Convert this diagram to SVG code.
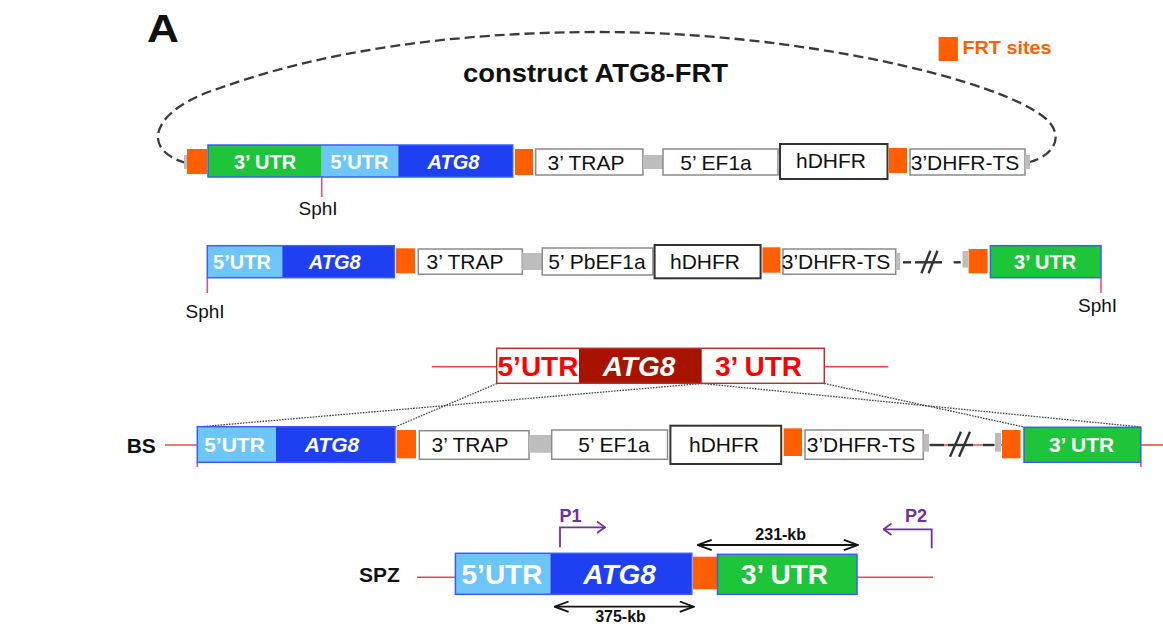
<svg xmlns="http://www.w3.org/2000/svg" width="1163" height="628" viewBox="0 0 1163 628">
  <defs>
    <style>
      text { font-family: "Liberation Sans", Arial, sans-serif; }
      .lbl { font-size: 21px; fill: #111; text-anchor: middle; }
      .wb { font-weight: bold; fill: #fff; text-anchor: middle; font-size: 20px; }
      .big { font-size: 28px; }
      .it { font-style: italic; }
      .site { font-size: 19px; fill: #111; text-anchor: middle; }
      .row { font-size: 21px; font-weight: bold; fill: #111; }
      .box { fill: #fff; stroke: #8a8a8a; stroke-width: 1.5; }
      .hd { fill: #fff; stroke: #333; stroke-width: 2; }
      .frt { fill: #ff5f00; }
      .lnk { fill: #bdbdbd; }
      .grn { fill: #1ec43a; }
      .lb { fill: #6ec6f8; }
      .bl { fill: #1f3ff2; }
      .ol { fill: none; stroke: #3a5cff; stroke-width: 1.5; }
      .red { stroke: #f04848; stroke-width: 1.6; fill: none; }
      .tick { stroke: #e0508a; stroke-width: 1.6; fill: none; }
      .dot { stroke: #444; stroke-width: 1.3; stroke-dasharray: 1.6 1.2; fill: none; }
      .brk { stroke: #333; stroke-width: 2.4; fill: none; }
      .pur { stroke: #7030a0; stroke-width: 1.8; fill: none; }
      .ptxt { font-size: 18px; font-weight: bold; fill: #7030a0; }
      .dbl { stroke: #111; stroke-width: 1.8; fill: none; }
      .kb { font-size: 16px; font-weight: bold; fill: #111; text-anchor: middle; }
    </style>
    <marker id="chev-k" viewBox="0 0 16 12" refX="15" refY="6" markerWidth="16" markerHeight="12" markerUnits="userSpaceOnUse" orient="auto-start-reverse">
      <path d="M1,0.8 L15,6 L1,11.2" fill="none" stroke="#111" stroke-width="1.8"/>
    </marker>
    <marker id="chev-p" viewBox="0 0 10 13" refX="9" refY="6.5" markerWidth="10" markerHeight="13" markerUnits="userSpaceOnUse" orient="auto">
      <path d="M1,0.8 L9,6.5 L1,12.2" fill="none" stroke="#7030a0" stroke-width="1.8"/>
    </marker>
  </defs>

  <rect width="1163" height="628" fill="#fff"/>

  <!-- panel letter, title, legend -->
  <g id="panel-label">
    <text x="147" y="42" font-size="38" font-weight="bold" fill="#111" textLength="32" lengthAdjust="spacingAndGlyphs">A</text>
  </g>
  <g id="title">
    <text x="463" y="82" font-size="26" font-weight="bold" fill="#111" textLength="265" lengthAdjust="spacingAndGlyphs">construct ATG8-FRT</text>
  </g>
  <g id="legend-frt">
    <rect class="frt" x="938.6" y="37" width="19.3" height="24"/>
    <text x="962.5" y="54.3" font-size="19" font-weight="bold" fill="#ff5f00" textLength="89" lengthAdjust="spacingAndGlyphs">FRT sites</text>
  </g>

  <!-- connectors: plasmid loop, chromosome lines, alignment guides, primers, product sizes -->
  <g id="connectors">
    <path d="M186,163 C140,150 150,110 220,88 C320,52 450,32 600,32 C800,32 1000,80 1045,118 C1065,135 1055,155 1030,162" fill="none" stroke="#3a3a3a" stroke-width="2.3" stroke-dasharray="10 5"/>

    <!-- restriction site ticks -->
    <line class="tick" x1="321.7" y1="177" x2="321.7" y2="197"/>
    <line class="tick" x1="207.3" y1="278" x2="207.3" y2="293"/>
    <line class="tick" x1="1101" y1="278" x2="1101" y2="293"/>
    <line class="tick" x1="197.3" y1="462" x2="197.3" y2="467"/>
    <line class="tick" x1="1140.8" y1="462" x2="1140.8" y2="467"/>

    <!-- break in the linear construct -->
    <line class="brk" x1="903" y1="262.3" x2="911" y2="262.3"/>
    <line class="brk" x1="915" y1="262.3" x2="942" y2="262.3"/>
    <line class="brk" x1="921.4" y1="273.3" x2="930.4" y2="250.7"/>
    <line class="brk" x1="928.6" y1="273.3" x2="937.5" y2="250.7"/>
    <line class="brk" x1="953.6" y1="262.3" x2="960.7" y2="262.3"/>

    <!-- wild-type locus chromosome -->
    <line class="red" x1="431.7" y1="366.7" x2="496.7" y2="366.7"/>
    <line class="red" x1="824.3" y1="366.7" x2="888.3" y2="366.7"/>

    <!-- homologous recombination guides -->
    <line class="dot" x1="497" y1="383.5" x2="395" y2="427"/>
    <line class="dot" x1="702" y1="383.5" x2="197.3" y2="427"/>
    <line class="dot" x1="702" y1="383.5" x2="1140.8" y2="427"/>
    <line class="dot" x1="824.3" y1="383.5" x2="1024" y2="427"/>

    <!-- BS chromosome -->
    <line class="red" x1="165" y1="445" x2="197.3" y2="445"/>
    <line class="red" x1="929" y1="445" x2="1002" y2="445"/>
    <line class="red" x1="1140.8" y1="445" x2="1163" y2="445"/>
    <line class="brk" x1="930" y1="445" x2="944" y2="445"/>
    <line class="brk" x1="948" y1="445" x2="973" y2="445"/>
    <line class="brk" x1="950" y1="456.7" x2="961" y2="431.7"/>
    <line class="brk" x1="959" y1="456.7" x2="970" y2="431.7"/>
    <line class="brk" x1="983" y1="445" x2="994" y2="445"/>

    <!-- SPZ chromosome -->
    <line class="red" x1="417" y1="577.3" x2="455.4" y2="577.3"/>
    <line class="red" x1="857" y1="577.3" x2="933" y2="577.3"/>

    <!-- primers -->
    <path class="pur" d="M560,547.3 V527.3 H605" marker-end="url(#chev-p)"/>
    <path class="pur" d="M931.7,548.3 V529.3 H883.5" marker-end="url(#chev-p)"/>

    <!-- product sizes -->
    <line class="dbl" x1="697.7" y1="545" x2="857.8" y2="545" marker-start="url(#chev-k)" marker-end="url(#chev-k)"/>
    <line class="dbl" x1="554.6" y1="606.7" x2="693.8" y2="606.7" marker-start="url(#chev-k)" marker-end="url(#chev-k)"/>
  </g>

  <!-- ===== construct ATG8-FRT (circular plasmid) ===== -->
  <g id="c1-link-left"><rect class="lnk" x="184" y="155" width="4" height="14"/></g>
  <g id="c1-frt-1"><rect class="frt" x="187" y="149" width="20" height="25"/></g>
  <g id="c1-utr-atg8">
    <rect class="grn" x="208" y="145" width="113.7" height="32"/>
    <rect class="lb" x="321.7" y="145" width="76.6" height="32"/>
    <rect class="bl" x="398.3" y="145" width="114.4" height="32"/>
    <rect class="ol" x="208" y="145" width="304.7" height="32"/>
    <text class="wb" x="265" y="169">3’ UTR</text>
    <text class="wb" x="359.5" y="169">5’UTR</text>
    <text class="wb it" x="453.5" y="169">ATG8</text>
  </g>
  <g id="c1-sphi"><text class="site" x="318" y="215">SphI</text></g>
  <g id="c1-frt-2"><rect class="frt" x="515" y="149" width="18" height="26"/></g>
  <g id="c1-trap">
    <rect class="box" x="535.7" y="149" width="107.2" height="26"/>
    <text class="lbl" x="586" y="170">3’ TRAP</text>
  </g>
  <g id="c1-link-1"><rect class="lnk" x="643" y="155" width="20" height="14"/></g>
  <g id="c1-ef1a">
    <rect class="box" x="663" y="149" width="115" height="26"/>
    <text class="lbl" x="716" y="170">5’ EF1a</text>
  </g>
  <g id="c1-link-2"><rect class="lnk" x="778" y="155" width="3" height="14"/></g>
  <g id="c1-hdhfr">
    <rect class="hd" x="780" y="144" width="107.5" height="35"/>
    <text class="lbl" x="831" y="168">hDHFR</text>
  </g>
  <g id="c1-frt-3"><rect class="frt" x="889" y="148" width="18" height="25"/></g>
  <g id="c1-dhfrts">
    <rect class="box" x="910" y="149" width="115" height="26"/>
    <text class="lbl" x="965" y="170">3’DHFR-TS</text>
  </g>
  <g id="c1-link-right"><rect class="lnk" x="1025" y="155" width="5" height="14"/></g>

  <!-- ===== linearised construct ===== -->
  <g id="c2-utr-atg8">
    <rect class="lb" x="207.3" y="245.7" width="75" height="32"/>
    <rect class="bl" x="282.3" y="245.7" width="112" height="32"/>
    <rect class="ol" x="207.3" y="245.7" width="187" height="32"/>
    <text class="wb" x="242" y="268.5">5’UTR</text>
    <text class="wb it" x="334.7" y="268.5">ATG8</text>
  </g>
  <g id="c2-sphi-left"><text class="site" x="205" y="318">SphI</text></g>
  <g id="c2-frt-1"><rect class="frt" x="396" y="248.3" width="19" height="25"/></g>
  <g id="c2-trap">
    <rect class="box" x="418.3" y="249" width="104" height="25.3"/>
    <text class="lbl" x="465" y="269">3’ TRAP</text>
  </g>
  <g id="c2-link-1"><rect class="lnk" x="522.3" y="253" width="20" height="17"/></g>
  <g id="c2-pbef1a">
    <rect class="box" x="542.3" y="248" width="110.6" height="27"/>
    <text class="lbl" x="597" y="269">5’ PbEF1a</text>
  </g>
  <g id="c2-hdhfr">
    <rect class="hd" x="654.6" y="245" width="106" height="33.3"/>
    <text class="lbl" x="705" y="269">hDHFR</text>
  </g>
  <g id="c2-frt-2"><rect class="frt" x="762.5" y="247.3" width="18" height="25.4"/></g>
  <g id="c2-dhfrts">
    <rect class="box" x="783" y="249" width="112.7" height="25.3"/>
    <text class="lbl" x="836" y="269">3’DHFR-TS</text>
  </g>
  <g id="c2-link-2"><rect class="lnk" x="895.7" y="253" width="4.5" height="17"/></g>
  <g id="c2-link-3"><rect class="lnk" x="962.5" y="251" width="5.5" height="16.7"/></g>
  <g id="c2-frt-3"><rect class="frt" x="968.6" y="249" width="19" height="24.3"/></g>
  <g id="c2-utr3">
    <rect class="grn" x="990.4" y="245.7" width="110.6" height="32"/>
    <rect class="ol" x="990.4" y="245.7" width="110.6" height="32"/>
    <text class="wb" x="1045" y="268.5">3’ UTR</text>
  </g>
  <g id="c2-sphi-right"><text class="site" x="1097.5" y="312">SphI</text></g>

  <!-- ===== wild-type ATG8 locus ===== -->
  <g id="wt-locus">
    <rect x="496.7" y="348.3" width="327.6" height="35" fill="#fff"/>
    <rect x="579" y="348.3" width="122.7" height="35" fill="#a81300"/>
    <rect x="496.7" y="348.3" width="327.6" height="35" fill="none" stroke="#b8322a" stroke-width="1.5"/>
    <text class="wb big" x="538" y="376" fill="#ff0000" style="fill:#ff0000">5’UTR</text>
    <text class="wb big it" x="639" y="376">ATG8</text>
    <text class="wb big" x="758.5" y="376" style="fill:#ff0000">3’ UTR</text>
  </g>

  <!-- ===== BS (blood stage) locus ===== -->
  <g id="bs-label"><text class="row" x="126.7" y="453">BS</text></g>
  <g id="bs-utr-atg8">
    <rect class="lb" x="197.3" y="426.7" width="78.7" height="35.6"/>
    <rect class="bl" x="276" y="426.7" width="119" height="35.6"/>
    <rect class="ol" x="197.3" y="426.7" width="197.7" height="35.6"/>
    <text class="wb" x="234.5" y="452" style="font-size:21px">5’UTR</text>
    <text class="wb it" x="332" y="452" style="font-size:21px">ATG8</text>
  </g>
  <g id="bs-frt-1"><rect class="frt" x="396.7" y="430" width="19.3" height="28.3"/></g>
  <g id="bs-trap">
    <rect class="box" x="419.3" y="430.7" width="109.7" height="28.6"/>
    <text class="lbl" x="470" y="452">3’ TRAP</text>
  </g>
  <g id="bs-link-1"><rect class="lnk" x="529" y="435" width="22.7" height="17.7"/></g>
  <g id="bs-ef1a">
    <rect class="box" x="551.7" y="430" width="115.8" height="29.3"/>
    <text class="lbl" x="614" y="452">5’ EF1a</text>
  </g>
  <g id="bs-hdhfr">
    <rect class="hd" x="670.4" y="425.7" width="110.8" height="38.3"/>
    <text class="lbl" x="724" y="452">hDHFR</text>
  </g>
  <g id="bs-frt-2"><rect class="frt" x="783.7" y="428.3" width="18.3" height="27.7"/></g>
  <g id="bs-dhfrts">
    <rect class="box" x="805" y="430" width="118.3" height="29.3"/>
    <text class="lbl" x="861" y="452">3’DHFR-TS</text>
  </g>
  <g id="bs-link-2"><rect class="lnk" x="923.3" y="434" width="5.7" height="17.7"/></g>
  <g id="bs-link-3"><rect class="lnk" x="995" y="433" width="6" height="18.7"/></g>
  <g id="bs-frt-3"><rect class="frt" x="1002" y="430" width="18.5" height="28.3"/></g>
  <g id="bs-utr3">
    <rect class="grn" x="1024" y="427.3" width="116.8" height="35"/>
    <rect class="ol" x="1024" y="427.3" width="116.8" height="35"/>
    <text class="wb" x="1081.6" y="452" style="font-size:21px">3’ UTR</text>
  </g>

  <!-- ===== SPZ (sporozoite, excised) locus ===== -->
  <g id="spz-label"><text class="row" x="359" y="582">SPZ</text></g>
  <g id="spz-utr-atg8">
    <rect class="lb" x="455.4" y="553.3" width="95" height="41"/>
    <rect class="bl" x="550.4" y="553.3" width="141.4" height="41"/>
    <rect class="ol" x="455.4" y="553.3" width="236.4" height="41"/>
    <text class="wb big" x="502" y="584">5’UTR</text>
    <text class="wb big it" x="619.6" y="584">ATG8</text>
  </g>
  <g id="spz-frt"><rect class="frt" x="693" y="556.7" width="24.5" height="32.6"/></g>
  <g id="spz-utr3">
    <rect class="grn" x="717.5" y="554.3" width="139.5" height="40"/>
    <rect class="ol" x="717.5" y="554.3" width="139.5" height="40"/>
    <text class="wb big" x="784.5" y="584">3’ UTR</text>
  </g>
  <g id="primer-p1"><text class="ptxt" x="559.4" y="521.7">P1</text></g>
  <g id="primer-p2"><text class="ptxt" x="905" y="521.7">P2</text></g>
  <g id="size-231"><text class="kb" x="780.7" y="540">231-kb</text></g>
  <g id="size-375"><text class="kb" x="620.5" y="621.7">375-kb</text></g>
</svg>
